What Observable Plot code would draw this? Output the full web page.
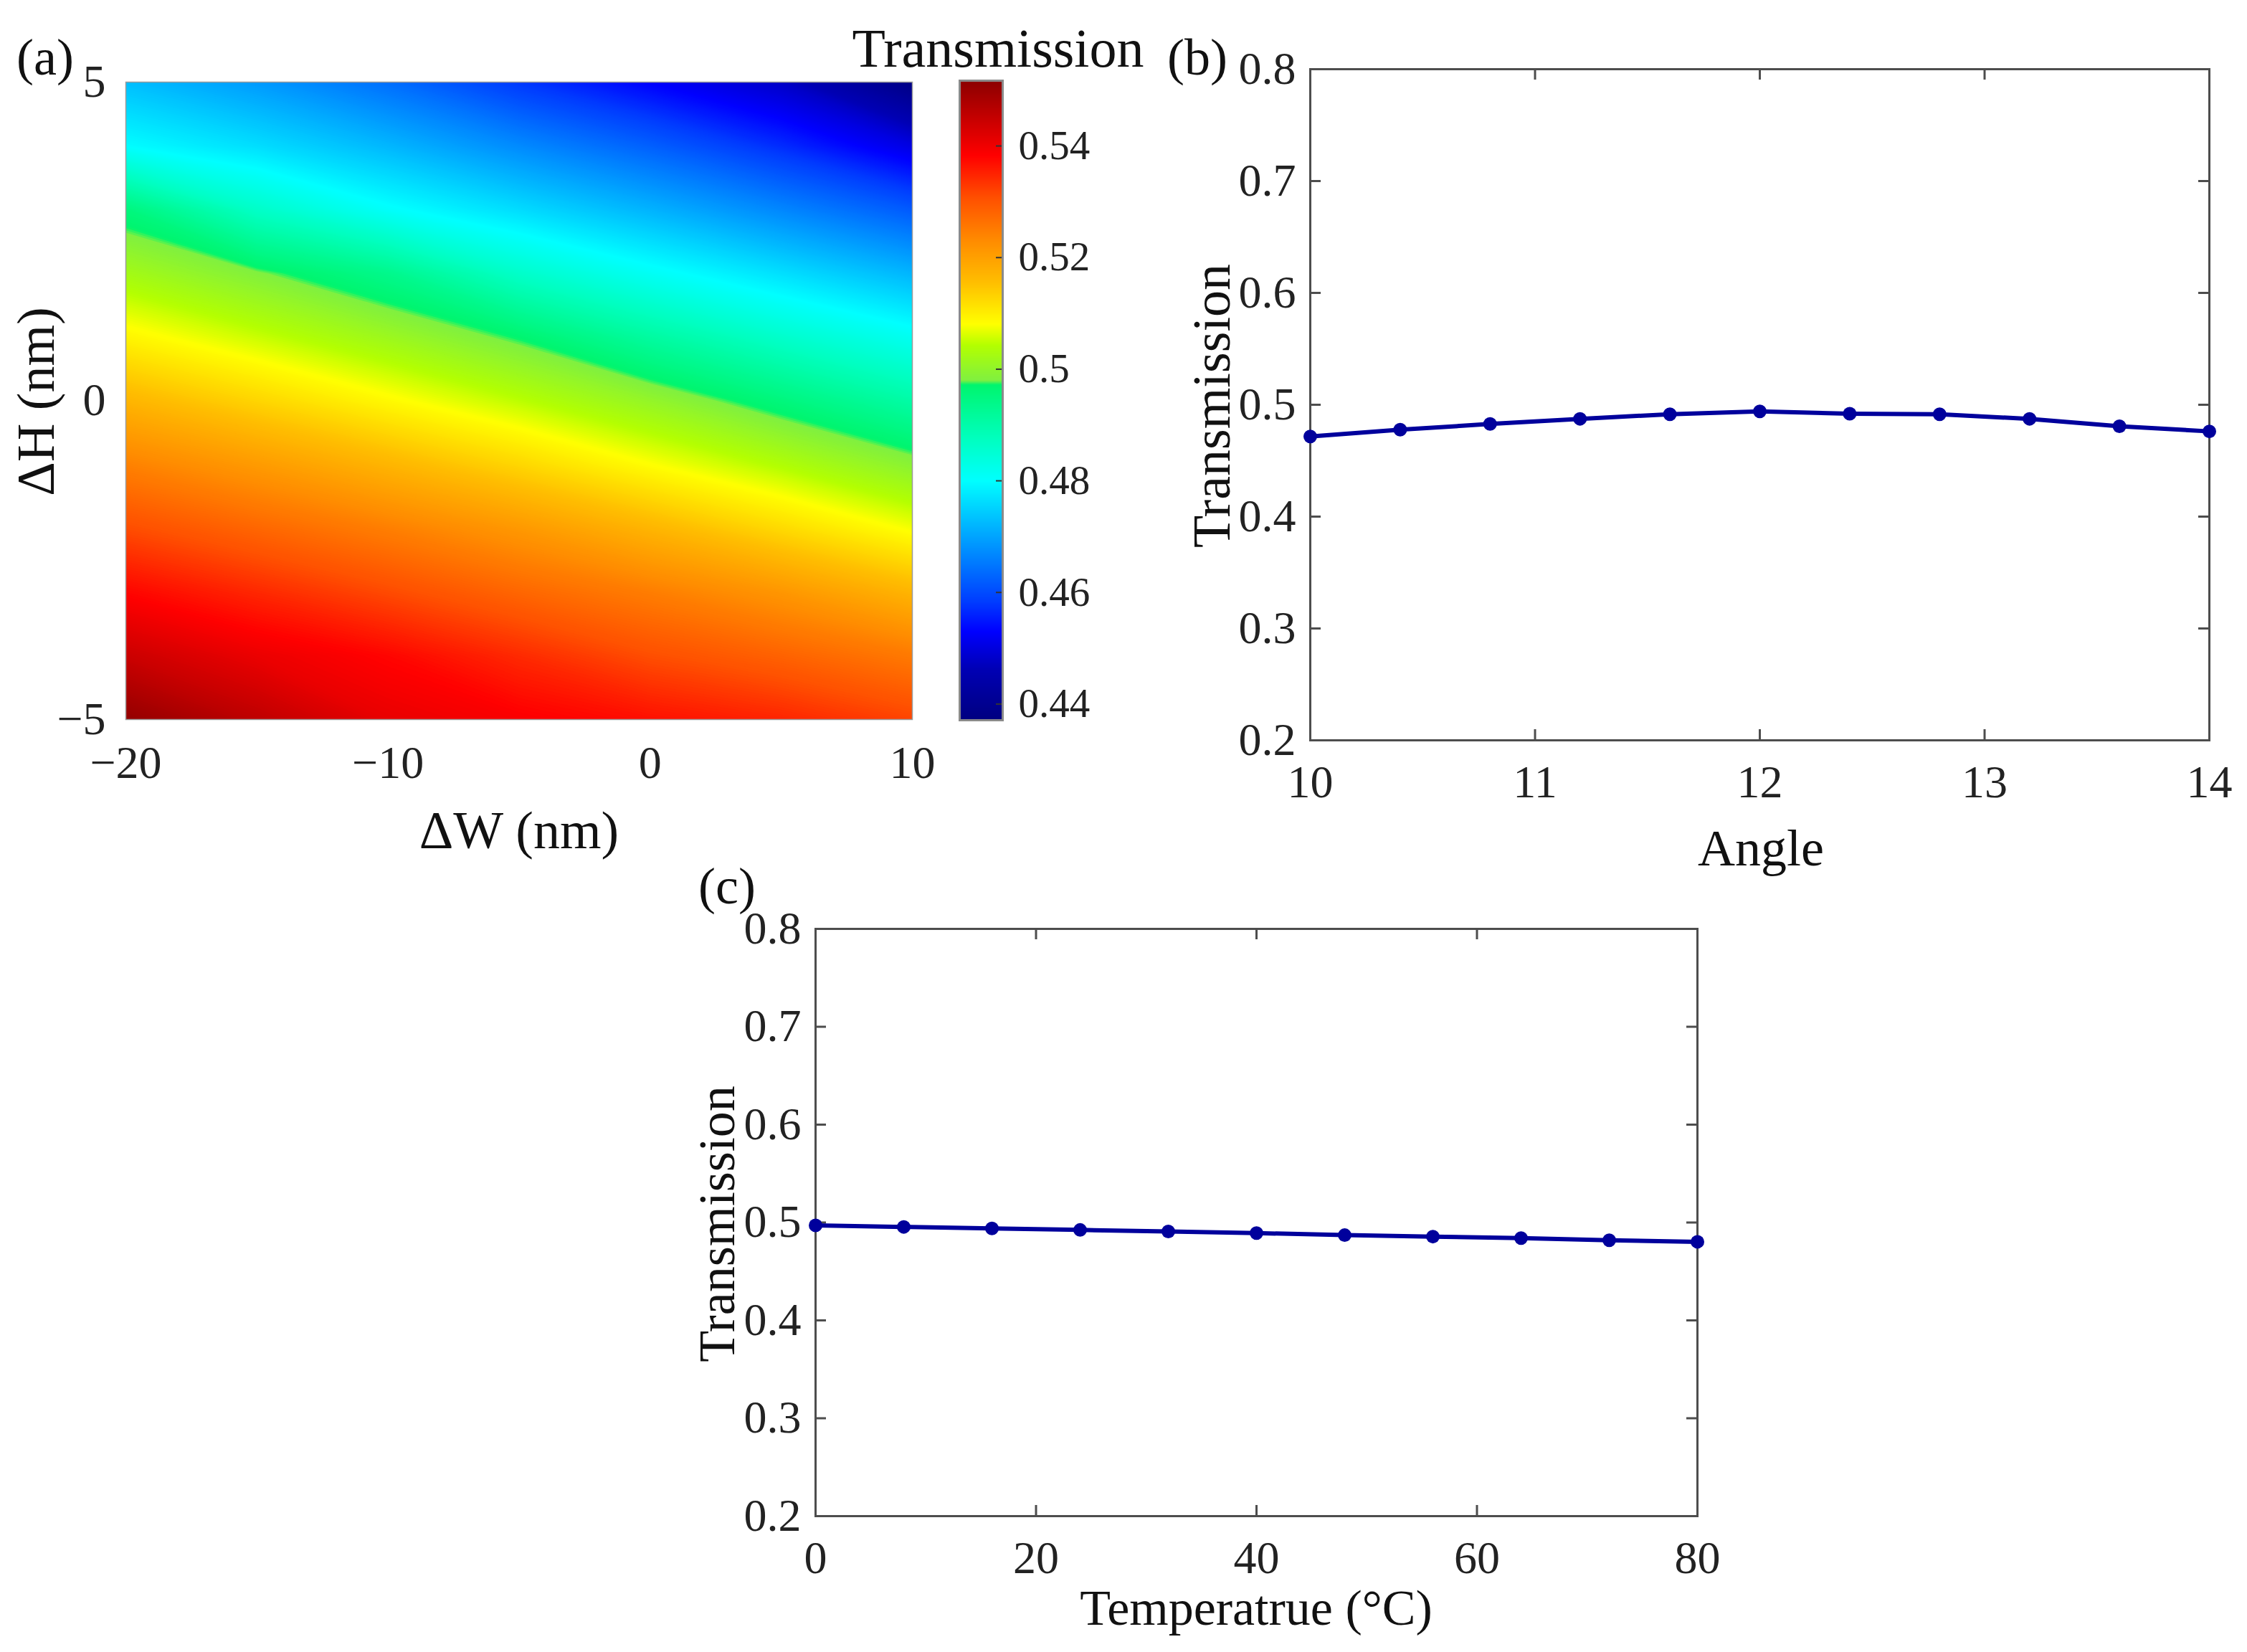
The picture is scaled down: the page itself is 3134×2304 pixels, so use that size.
<!DOCTYPE html>
<html><head><meta charset="utf-8">
<script src="https://cdn.jsdelivr.net/npm/d3@7"></script>
<script src="https://cdn.jsdelivr.net/npm/@observablehq/plot@0.6"></script>
<style>
html,body{margin:0;padding:0;background:#fff;}
#fig{position:relative;width:3134px;height:2304px;background:#fff;font-family:"Liberation Serif","Times New Roman",serif;color:#111;overflow:hidden;}
.lbl{position:absolute;white-space:nowrap;font-size:72px;line-height:1;transform:translate(-50%,-50%);}
.rot{transform:translate(-50%,-50%) rotate(-90deg);}
</style></head><body><div id="fig"></div>
<script>
// ---------- data ----------
// (a) transmission map: columns = dW, rows = dH
const dW = [-20, -15, -10, -5, 0, 5, 10];
const dH = [5, 4, 3, 2, 1, 0, -1, -2, -3, -4, -5];
const transGrid = [
  [0.473, 0.469, 0.464, 0.458, 0.453, 0.448, 0.438],
  [0.480, 0.4765, 0.4722, 0.4672, 0.4624, 0.4569, 0.4505],
  [0.4955, 0.4866, 0.4807, 0.4763, 0.4718, 0.4668, 0.4617],
  [0.5024, 0.4984, 0.4938, 0.4864, 0.4813, 0.4767, 0.472],
  [0.5094, 0.5055, 0.5015, 0.4971, 0.4913, 0.4862, 0.4817],
  [0.5171, 0.5131, 0.5089, 0.5048, 0.5005, 0.4956, 0.4906],
  [0.5245, 0.521, 0.5171, 0.5129, 0.5083, 0.504, 0.4993],
  [0.5312, 0.528, 0.5248, 0.5213, 0.5171, 0.5125, 0.5077],
  [0.538, 0.5347, 0.5314, 0.528, 0.525, 0.5216, 0.5171],
  [0.5445, 0.5407, 0.538, 0.5345, 0.531, 0.5285, 0.5255],
  [0.551, 0.546, 0.541, 0.539, 0.537, 0.535, 0.532]
];
const dWTicks = [-20, -10, 0, 10];
const dHTicks = [-5, 0, 5];
const cbarDomain = [0.4371, 0.5517];
const cbarTicks = [0.44, 0.46, 0.48, 0.5, 0.52, 0.54];
// jet-like colormap used by the figure
const cmapStops = [0.4371, 0.4462, 0.453, 0.4583, 0.465, 0.4718, 0.480, 0.4877, 0.4972, 0.4980, 0.5043, 0.5081, 0.5156, 0.523, 0.5307, 0.5383, 0.5517];
const cmapColors = ["#000080","#0000b4","#0000ff","#003cff","#0078ff","#00b4ff","#00ffff","#00ffbe","#00f56e","#80f040","#b4ff00","#ffff00","#ffbe00","#ff8c00","#ff5000","#ff0000","#8c0000"];

// (b) transmission vs angle
const angle = [10, 10.4, 10.8, 11.2, 11.6, 12, 12.4, 12.8, 13.2, 13.6, 14];
const transAngle = [0.4716, 0.4777, 0.4828, 0.4874, 0.4915, 0.4941, 0.4920, 0.4915, 0.4874, 0.4808, 0.4762];
const angleTicks = [10, 11, 12, 13, 14];

// (c) transmission vs temperature
const temperature = [0, 8, 16, 24, 32, 40, 48, 56, 64, 72, 80];
const transTemp = [0.4971, 0.4955, 0.4940, 0.4924, 0.4908, 0.4892, 0.4871, 0.4856, 0.4840, 0.4819, 0.4803];
const tempTicks = [0, 20, 40, 60, 80];
const transTicks = [0.2, 0.3, 0.4, 0.5, 0.6, 0.7, 0.8];

// ---------- drawing ----------
const fig = document.getElementById("fig");
const FONT = '"Liberation Serif","Times New Roman",serif';
const colorOpts = {type: "linear", domain: cmapStops, range: cmapColors, interpolate: "rgb", clamp: true};
function place(el, left, top) {
  el.style.position = "absolute"; el.style.left = left + "px"; el.style.top = top + "px";
  fig.appendChild(el);
}
function label(text, cx, cy, size, rotate) {
  const d = document.createElement("div");
  d.className = "lbl" + (rotate ? " rot" : "");
  d.textContent = text;
  d.style.left = cx + "px"; d.style.top = cy + "px";
  if (size) d.style.fontSize = size + "px";
  fig.appendChild(d);
}

// (a) heatmap: filled contours of the gridded values (grid samples sit at cell centres)
const stepW = dW[1] - dW[0], stepH = dH[0] - dH[1];
const levels = d3.range(0.430, 0.556, 0.00025);
const heat = Plot.plot({
  width: 1300, height: 1200,
  marginLeft: 175, marginRight: 28, marginTop: 114, marginBottom: 197,
  style: {fontFamily: FONT, fontSize: "64px", color: "#222", background: "transparent", overflow: "visible"},
  x: {domain: [-20, 10], ticks: dWTicks, tickSize: 0, tickPadding: 36, label: null},
  y: {domain: [-5, 5], ticks: dHTicks, tickSize: 0, tickPadding: 28, label: null},
  color: colorOpts,
  marks: [
    Plot.contour(transGrid.flat(), {
      width: dW.length, height: dH.length,
      x1: dW[0] - stepW / 2, x2: dW[dW.length - 1] + stepW / 2,
      y1: dH[0] + stepH / 2, y2: dH[dH.length - 1] - stepH / 2,
      thresholds: levels, fill: Plot.identity, clip: true
    }),
    Plot.frame({stroke: "#9a9a9a", strokeWidth: 1.5})
  ]
});
place(heat, 0, 0);

// colorbar
const cbar = Plot.plot({
  width: 300, height: 1200,
  marginLeft: 88, marginRight: 152, marginTop: 112, marginBottom: 196,
  style: {fontFamily: FONT, fontSize: "57px", color: "#222", background: "transparent", overflow: "visible"},
  x: {domain: [0, 1], axis: null},
  y: {domain: cbarDomain, axis: "right", ticks: cbarTicks, tickSize: 0, tickPadding: 22, label: null,
      tickFormat: d => String(+d.toFixed(2))},
  color: colorOpts,
  marks: [
    Plot.raster({fill: (x, y) => y, x1: 0, x2: 1, y1: cbarDomain[0], y2: cbarDomain[1]}),
    Plot.ruleY(cbarTicks, {insetLeft: 51, stroke: "#333", strokeWidth: 2}),
    Plot.frame({stroke: "#8a8a8a", strokeWidth: 3})
  ]
});
place(cbar, 1250, 0);

// line panel helper
function linePanel({xs, ys, xDomain, xTicks, width, height, mL, mR, mT, mB}) {
  const pw = width - mL - mR, ph = height - mT - mB, tl = 15;
  const data = xs.map((x, i) => ({x, y: ys[i]}));
  const tickStyle = {stroke: "#4d4d4d", strokeWidth: 3};
  return Plot.plot({
    width, height, marginLeft: mL, marginRight: mR, marginTop: mT, marginBottom: mB,
    style: {fontFamily: FONT, fontSize: "64px", color: "#222", background: "transparent", overflow: "visible"},
    x: {domain: xDomain, ticks: xTicks, tickSize: 0, tickPadding: 34, label: null, tickFormat: d => String(d)},
    y: {domain: [0.2, 0.8], ticks: transTicks, tickSize: 0, tickPadding: 20, label: null,
        tickFormat: d => String(+d.toFixed(1))},
    marks: [
      Plot.ruleY(transTicks, {...tickStyle, insetRight: pw - tl}),
      Plot.ruleY(transTicks, {...tickStyle, insetLeft: pw - tl}),
      Plot.ruleX(xTicks, {...tickStyle, insetTop: ph - tl}),
      Plot.ruleX(xTicks, {...tickStyle, insetBottom: ph - tl}),
      Plot.frame({stroke: "#4d4d4d", strokeWidth: 3}),
      Plot.line(data, {x: "x", y: "y", stroke: "#00009c", strokeWidth: 6}),
      Plot.dot(data, {x: "x", y: "y", r: 9.5, fill: "#00009c", stroke: "none"})
    ]
  });
}

// (b)
const pb = linePanel({xs: angle, ys: transAngle, xDomain: [10, 14], xTicks: angleTicks,
  width: 1494, height: 1250, mL: 187, mR: 53, mT: 96, mB: 218});
place(pb, 1640, 0);

// (c)
const pc = linePanel({xs: temperature, ys: transTemp, xDomain: [0, 80], xTicks: tempTicks,
  width: 1500, height: 1054, mL: 177, mR: 93, mT: 45, mB: 190});
place(pc, 960, 1250);

// text labels
label("(a)", 63, 80, 72);
label("\u0394H (nm)", 50, 560, 74, true);
label("\u0394W (nm)", 724, 1158, 74);
label("Transmission", 1392, 67, 76);
label("(b)", 1670, 80, 72);
label("Transmission", 1690, 566, 74, true);
label("Angle", 2456, 1183, 72);
label("(c)", 1014, 1236, 72);
label("Transmission", 1000, 1707, 72, true);
label("Temperatrue (\u00B0C)", 1752, 2243, 70);
</script></body></html>
